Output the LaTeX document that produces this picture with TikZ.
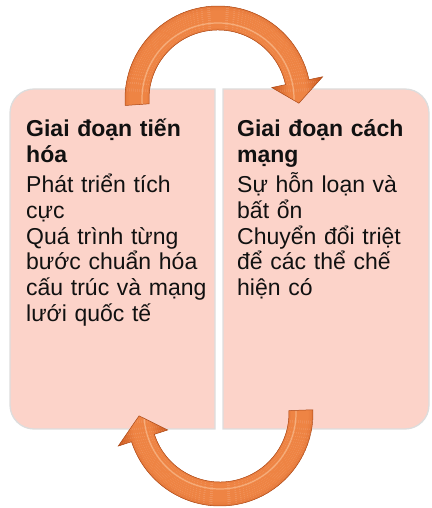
\documentclass[tikz,border=0pt]{standalone}
\usepackage{fontspec}
\setmainfont{Liberation Sans}
\usepackage{xcolor}
\usepackage{tikz}

\definecolor{boxpink}{HTML}{FCD3C9}
\definecolor{boxline}{HTML}{DDDDDD}
\definecolor{arrowdark}{HTML}{C9561C}
\definecolor{arrowlight}{HTML}{EE8444}
\definecolor{arrowshine}{HTML}{F6AE7C}
\definecolor{textdark}{HTML}{111111}

\tikzset{
  phasebox/.style={fill=boxpink, draw=boxline, line width=1.3pt},
  phasetext/.style={anchor=base west, inner sep=0pt, text width=190pt, align=left,
    text=textdark, font=\fontsize{23}{25.8}\selectfont},
  arrowedge/.style={draw=arrowdark!85!black, line width=0.5pt}
}

\begin{document}
\begin{tikzpicture}[x=1pt,y=1pt]
\useasboundingbox (0,0) rectangle (431,508);
\coordinate (T) at (218,409);
\coordinate (B) at (220,95);

% the two phases
\draw[phasebox] (215,419) -- (34,419) arc[start angle=90, end angle=180, radius=24]
  -- (10,103) arc[start angle=180, end angle=270, radius=24] -- (215,79) -- cycle;
\draw[phasebox] (223,419) -- (405,419) arc[start angle=90, end angle=0, radius=24]
  -- (429,103) arc[start angle=0, end angle=-90, radius=24] -- (223,79) -- cycle;

\node[phasetext] (evol) at (26,371) {{\bfseries Giai đoạn tiến\\hóa}\\[4pt]Phát triển tích\\cực\\Quá trình từng\\bước chuẩn hóa\\cấu trúc và mạng\\lưới quốc tế};
\node[phasetext] (revol) at (237,371) {{\bfseries Giai đoạn cách\\mạng}\\[4pt]Sự hỗn loạn và\\bất ổn\\Chuyển đổi triệt\\để các thể chế\\hiện có};

% arrow on top
\path[save path=\toparrow] ([shift={(184:93)}]T) arc[start angle=184, end angle=12, radius=93]
  -- ([shift={(12:107)}]T) -- ([shift={(-3:81)}]T) -- ([shift={(12:55)}]T)
  -- ([shift={(12:69)}]T) arc[start angle=12, end angle=184, radius=69] -- cycle;
\begin{scope}
  \clip[use path=\toparrow];
  \foreach \r in {52,54,...,110}{
    \pgfmathtruncatemacro\p{min(100,max(0,150-150*abs(\r-80)/26))}
    \draw[line width=2.2pt, arrowlight!\p!arrowdark] (T) circle[radius=\r];
  }
  \draw[line width=1.2pt, arrowshine] (T) circle[radius=76];
\end{scope}
\draw[arrowedge, use path=\toparrow];

% arrow at the bottom
\path[save path=\botarrow] ([shift={(2:93)}]B) arc[start angle=2, end angle=-162, radius=93]
  -- ([shift={(-162:107)}]B) -- ([shift={(-178:81)}]B) -- ([shift={(-162:55)}]B)
  -- ([shift={(-162:69)}]B) arc[start angle=-162, end angle=2, radius=69] -- cycle;
\begin{scope}
  \clip[use path=\botarrow];
  \foreach \r in {52,54,...,110}{
    \pgfmathtruncatemacro\p{min(100,max(0,150-150*abs(\r-80)/26))}
    \draw[line width=2.2pt, arrowlight!\p!arrowdark] (B) circle[radius=\r];
  }
  \draw[line width=1.2pt, arrowshine] (B) circle[radius=76];
\end{scope}
\draw[arrowedge, use path=\botarrow];
\end{tikzpicture}
\end{document}
